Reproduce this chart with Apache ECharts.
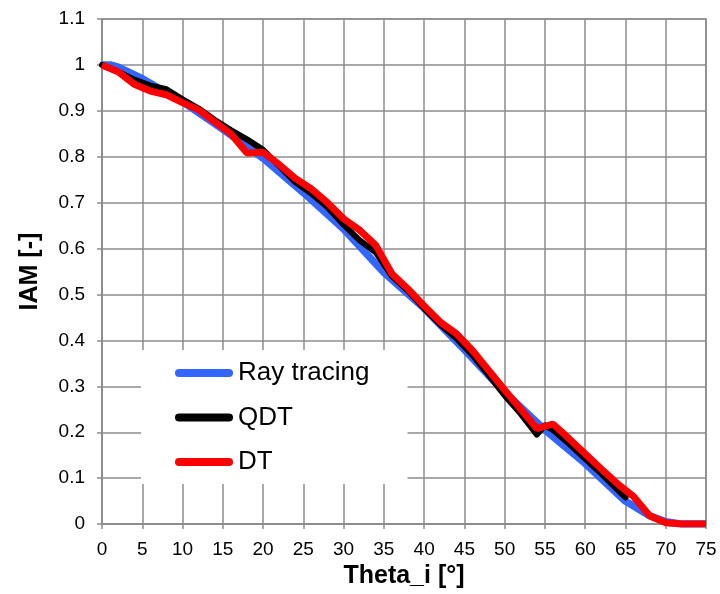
<!DOCTYPE html>
<html>
<head>
<meta charset="utf-8">
<script src="https://cdn.jsdelivr.net/npm/echarts@6/dist/echarts.min.js"></script>
<style>html,body{margin:0;padding:0;background:#fff;}#c{width:720px;height:594px;}</style>
</head>
<body>
<div id="c"></div>
<script>
const rayTheta = [0, 1, 2, 5, 10, 15, 20, 25, 30, 35, 40, 45, 50, 55, 60, 65, 68, 70, 72, 75];
const rayIAM   = [1.0, 1.0, 0.995, 0.97, 0.92, 0.86, 0.797, 0.722, 0.643, 0.548, 0.47, 0.38, 0.287, 0.205, 0.132, 0.05, 0.018, 0.005, 0, 0];

const qdtTheta = [0, 2, 4, 6, 8, 10, 12, 14, 16, 18, 20, 22, 24, 26, 28, 30, 32, 34, 36, 38, 40, 42, 44, 46, 48, 50, 52, 54, 55, 56, 58, 60, 62, 64, 65];
const qdtIAM   = [1.0, 0.985, 0.968, 0.955, 0.947, 0.925, 0.905, 0.88, 0.858, 0.838, 0.815, 0.78, 0.745, 0.72, 0.69, 0.652, 0.618, 0.592, 0.54, 0.508, 0.47, 0.435, 0.405, 0.368, 0.325, 0.28, 0.24, 0.195, 0.215, 0.205, 0.175, 0.142, 0.11, 0.075, 0.058];

const dtTheta = [0, 2, 4, 6, 8, 10, 12, 14, 16, 18, 20, 22, 24, 26, 28, 30, 32, 34, 36, 38, 40, 42, 44, 46, 48, 50, 52, 54, 56, 58, 60, 62, 64, 66, 68, 70, 72, 74, 75];
const dtIAM   = [1.0, 0.985, 0.958, 0.943, 0.935, 0.918, 0.902, 0.876, 0.85, 0.808, 0.81, 0.783, 0.753, 0.73, 0.7, 0.665, 0.64, 0.607, 0.545, 0.512, 0.475, 0.44, 0.415, 0.378, 0.335, 0.292, 0.25, 0.208, 0.218, 0.186, 0.153, 0.12, 0.088, 0.06, 0.018, 0.003, 0, 0, 0];

const xTicks = {min: 0, max: 75, interval: 5};
const yTicks = {min: 0, max: 1.1, interval: 0.1};

const pairs = (xs, ys) => xs.map((x, i) => [x, ys[i]]);
const FONT = 'Liberation Sans, Arial, sans-serif';
const GRID = '#8c8c8c';
const PILL = 'path://M4,0 L54,0 A4,4 0 0 1 54,8 L4,8 A4,4 0 0 1 4,0 Z';

const chart = echarts.init(document.getElementById('c'));
chart.setOption({
  animation: false,
  backgroundColor: '#fff',
  grid: {left: 102, right: 14, top: 19, bottom: 64, show: true, borderColor: GRID, borderWidth: 1.5},
  xAxis: {
    type: 'value', min: xTicks.min, max: xTicks.max, interval: xTicks.interval,
    name: 'Theta_i [°]', nameLocation: 'middle', nameGap: 30,
    nameTextStyle: {fontFamily: FONT, fontSize: 25, fontWeight: 'bold', color: '#000'},
    axisLine: {show: true, lineStyle: {color: GRID, width: 1.5}},
    axisTick: {show: true, inside: false, length: 5, lineStyle: {color: GRID, width: 1.5}},
    axisLabel: {fontFamily: FONT, fontSize: 19, color: '#000', margin: 16},
    splitLine: {show: true, lineStyle: {color: GRID, width: 1.5}}
  },
  yAxis: {
    type: 'value', min: yTicks.min, max: yTicks.max, interval: yTicks.interval,
    name: 'IAM [-]', nameLocation: 'middle', nameGap: 59,
    nameTextStyle: {fontFamily: FONT, fontSize: 25, fontWeight: 'bold', color: '#000'},
    axisLine: {show: true, lineStyle: {color: GRID, width: 1.5}},
    axisTick: {show: true, inside: false, length: 5, lineStyle: {color: GRID, width: 1.5}},
    axisLabel: {fontFamily: FONT, fontSize: 19, color: '#000', margin: 17, formatter: v => String(+v.toFixed(1))},
    splitLine: {show: true, lineStyle: {color: GRID, width: 1.5}}
  },
  legend: {
    orient: 'vertical', left: 141, top: 350,
    backgroundColor: '#fff',
    padding: [10, 38, 9, 34],
    itemGap: 18.5, itemWidth: 58, itemHeight: 8,
    icon: PILL,
    textStyle: {fontFamily: FONT, fontSize: 26, color: '#000', lineHeight: 26},
    data: ['Ray tracing', 'QDT', 'DT']
  },
  series: [
    {name: 'Ray tracing', type: 'line', data: pairs(rayTheta, rayIAM), symbol: 'none', z: 2,
     itemStyle: {color: '#3366ff'}, lineStyle: {color: '#3366ff', width: 7.5}},
    {name: 'QDT', type: 'line', data: pairs(qdtTheta, qdtIAM), symbol: 'none', z: 3,
     itemStyle: {color: '#000'}, lineStyle: {color: '#000', width: 6, cap: 'round', join: 'round'}},
    {name: 'DT', type: 'line', data: pairs(dtTheta, dtIAM), symbol: 'none', z: 4,
     itemStyle: {color: '#ff0000'}, lineStyle: {color: '#ff0000', width: 7}}
  ]
});
</script>
</body>
</html>
